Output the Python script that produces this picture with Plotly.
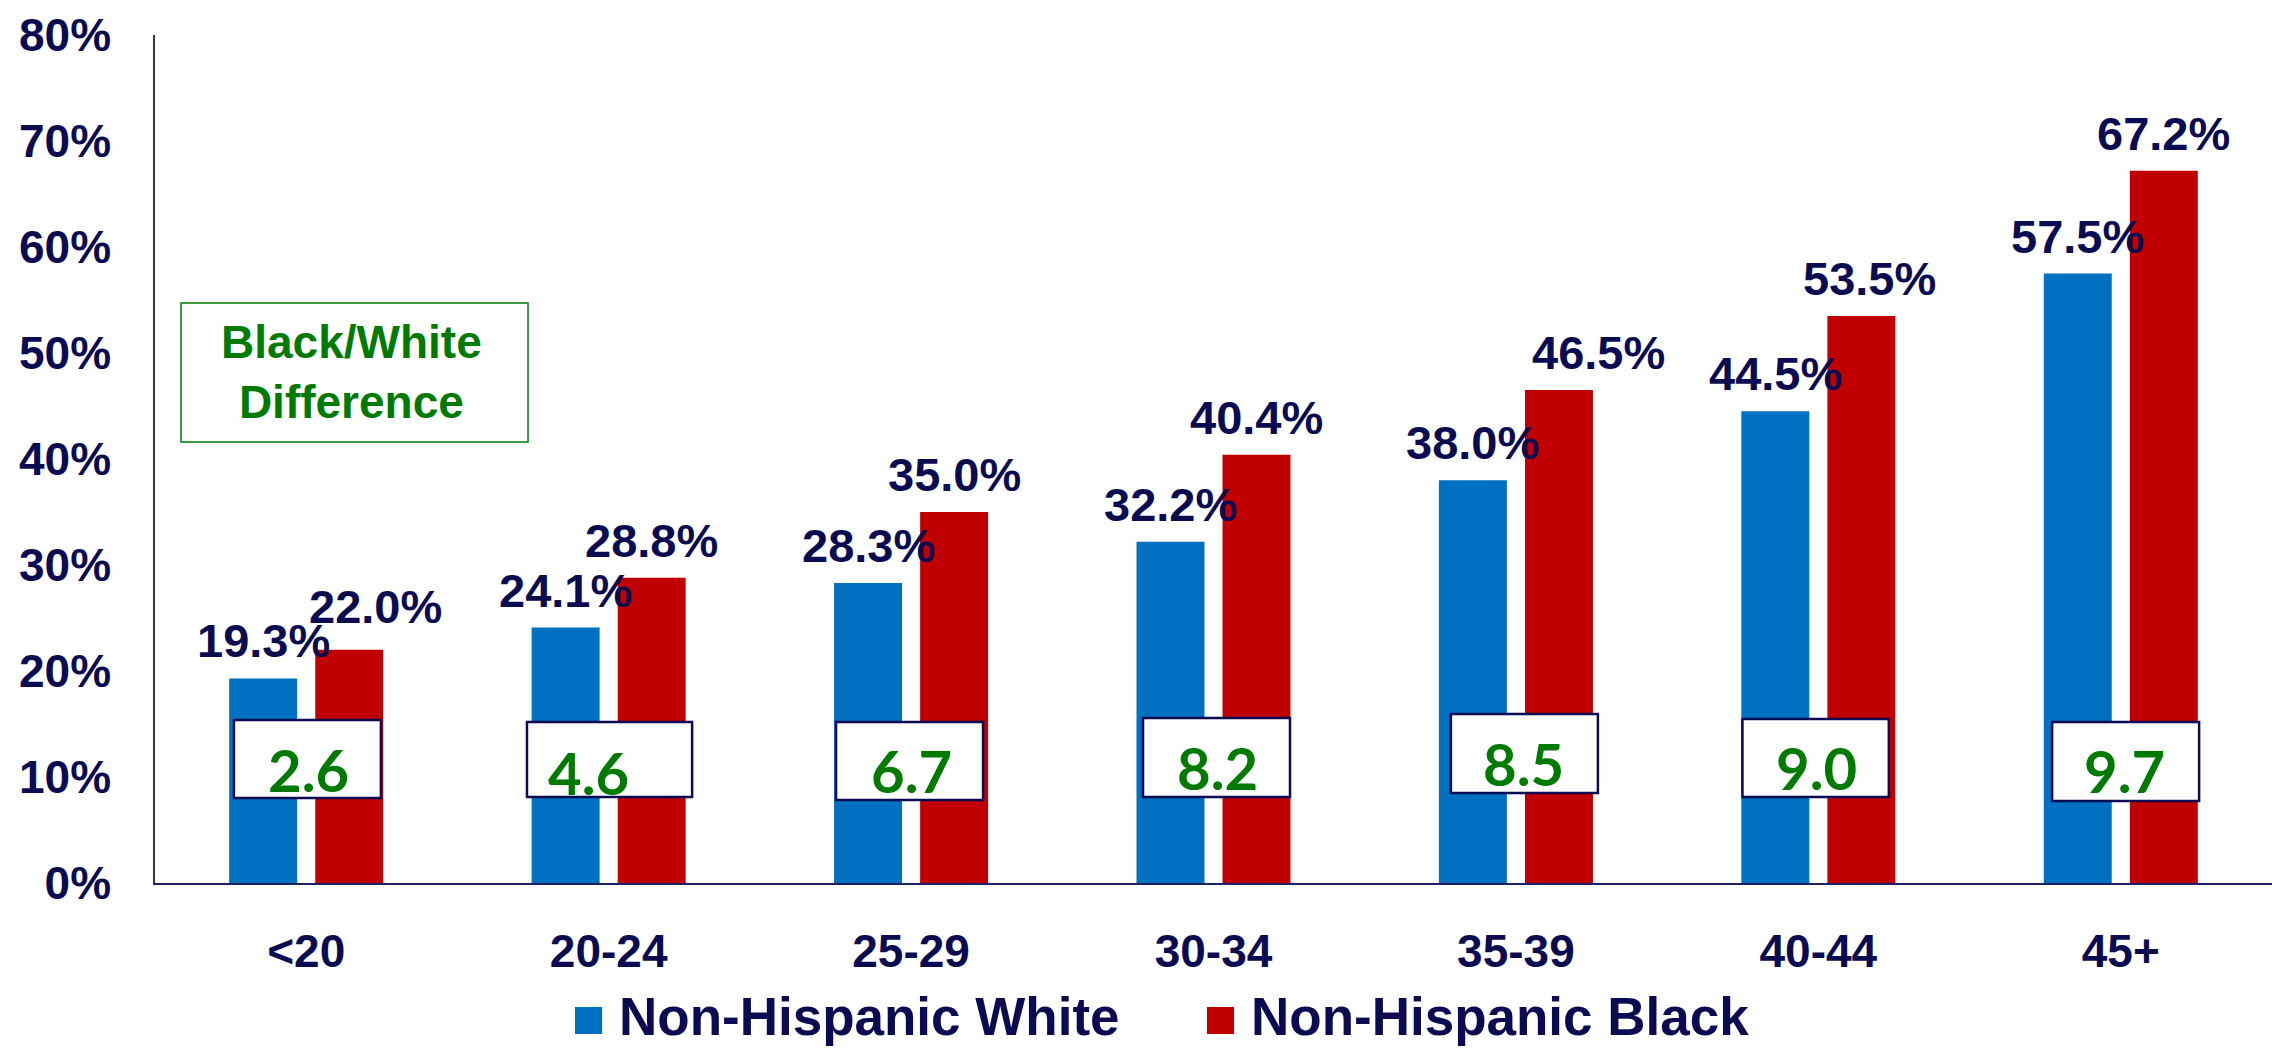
import plotly.graph_objects as go

# ---------------- data ----------------
categories = ["<20", "20-24", "25-29", "30-34", "35-39", "40-44", "45+"]
white_pct = [19.3, 24.1, 28.3, 32.2, 38.0, 44.5, 57.5]
black_pct = [22.0, 28.8, 35.0, 40.4, 46.5, 53.5, 67.2]
diff_labels = ["2.6", "4.6", "6.7", "8.2", "8.5", "9.0", "9.7"]
y_ticks = [0, 10, 20, 30, 40, 50, 60, 70, 80]
series_names = ["Non-Hispanic White", "Non-Hispanic Black"]

# ---------------- style ----------------
NAVY = "#0b0b52"
GREEN = "#007a00"
BLUE = "#0070C0"
RED = "#C00000"
FONT = "Liberation Sans, Arial, sans-serif"
NUMFONT = "Lato, Noto Sans, sans-serif"

BAR_GAP = 0.431
GROUP_GAP = 0.21
OFF = (1 - BAR_GAP) / 4.0  # centre offset of each bar from group centre

# manual label nudges (px) for the value labels
white_dx = [0, 0, 0, 0, 0, 0, 0]
white_dy = [0, 0, 0, 0, 0, 0, 0]
black_dx = [26, 0, 0, 0, 40, 8, 0]
black_dy = [6, 0, 0, 0, 0, 0, 0]

# difference box geometry (category units relative to group centre, y in % units)
box_left = [-0.239, -0.270, -0.248, -0.233, -0.215, -0.251, -0.227]
box_right = [0.247, 0.276, 0.238, 0.253, 0.271, 0.233, 0.259]
box_top = [15.38, 15.19, 15.19, 15.57, 15.94, 15.47, 15.19]
box_bot = [8.02, 8.11, 7.83, 8.11, 8.49, 8.11, 7.74]
text_dx = [0.007, -0.068, 0.0, 0.012, 0.026, -0.007, 0.013]
text_y = [10.75, 10.47, 10.57, 10.85, 11.23, 10.85, 10.57]

# legend geometry (paper units of the plot area)
leg_swatch_x = [(0.1984, 0.2112), (0.4969, 0.5097)]
leg_text_x = [0.2182, 0.5168]
leg_swatch_y = (-0.1781, -0.1462)
leg_text_y = -0.158
leg_colors = [BLUE, RED]

fig = go.Figure()
fig.add_trace(go.Bar(x=categories, y=white_pct, name=series_names[0],
                     marker=dict(color=BLUE, line=dict(width=0))))
fig.add_trace(go.Bar(x=categories, y=black_pct, name=series_names[1],
                     marker=dict(color=RED, line=dict(width=0))))

# value labels
for i, v in enumerate(white_pct):
    fig.add_annotation(x=i - OFF, y=v, xref="x", yref="y", text=f"{v:.1f}%",
                       showarrow=False, yanchor="bottom", xanchor="center",
                       xshift=white_dx[i], yshift=9 + white_dy[i],
                       font=dict(family=FONT, size=47, color=NAVY, weight="bold"))
for i, v in enumerate(black_pct):
    fig.add_annotation(x=i + OFF, y=v, xref="x", yref="y", text=f"{v:.1f}%",
                       showarrow=False, yanchor="bottom", xanchor="center",
                       xshift=black_dx[i], yshift=9 + black_dy[i],
                       font=dict(family=FONT, size=47, color=NAVY, weight="bold"))

# difference boxes
for i, lab in enumerate(diff_labels):
    fig.add_shape(type="rect", xref="x", yref="y",
                  x0=i + box_left[i], x1=i + box_right[i],
                  y0=box_bot[i], y1=box_top[i],
                  fillcolor="white", line=dict(color=NAVY, width=2.5), layer="above")
    fig.add_annotation(x=i + text_dx[i], y=text_y[i], xref="x", yref="y", text=lab,
                       showarrow=False, yanchor="middle", xanchor="center",
                       font=dict(family=NUMFONT, size=58, color=GREEN, weight="bold"))

# Black/White Difference callout
fig.add_shape(type="rect", xref="paper", yref="paper",
              x0=0.0123, x1=0.1762, y0=0.520, y1=0.684,
              fillcolor="white", line=dict(color=GREEN, width=1.5), layer="above")
fig.add_annotation(x=0.0926, y=0.6026, xref="paper", yref="paper",
                   text="Black/White<br>Difference", showarrow=False,
                   xanchor="center", yanchor="middle", align="center",
                   font=dict(family=FONT, size=46, color=GREEN, weight="bold"))

# legend (swatches + labels below the axis)
for k, name in enumerate(series_names):
    fig.add_shape(type="rect", xref="paper", yref="paper",
                  x0=leg_swatch_x[k][0], x1=leg_swatch_x[k][1],
                  y0=leg_swatch_y[0], y1=leg_swatch_y[1],
                  fillcolor=leg_colors[k], line=dict(width=0), layer="above")
    fig.add_annotation(x=leg_text_x[k], y=leg_text_y, xref="paper", yref="paper",
                       text=name, showarrow=False, xanchor="left", yanchor="middle",
                       font=dict(family=FONT, size=53, color=NAVY, weight="bold"))

fig.update_layout(
    width=2272, height=1048,
    margin=dict(l=155, r=0, t=35, b=165),
    paper_bgcolor="white", plot_bgcolor="white",
    barmode="group", bargap=BAR_GAP, bargroupgap=GROUP_GAP,
    font=dict(family=FONT, color=NAVY),
    showlegend=False,
)
fig.update_xaxes(showline=True, linecolor="#1f1f66", linewidth=2, showgrid=False,
                 ticks="", ticklabelstandoff=27, range=[-0.5, 6.5],
                 tickfont=dict(family=FONT, size=46, color=NAVY, weight="bold"))
fig.update_yaxes(range=[0, 80], tickvals=y_ticks, ticktext=[f"{t}%" for t in y_ticks],
                 showline=True, linecolor="#2e3b4e", linewidth=1.5, showgrid=False,
                 zeroline=False, ticks="", ticklabelstandoff=33,
                 tickfont=dict(family=FONT, size=46, color=NAVY, weight="bold"))

fig.write_html("out.html", config={"displayModeBar": False},
               post_script="document.body.style.margin='0';")
